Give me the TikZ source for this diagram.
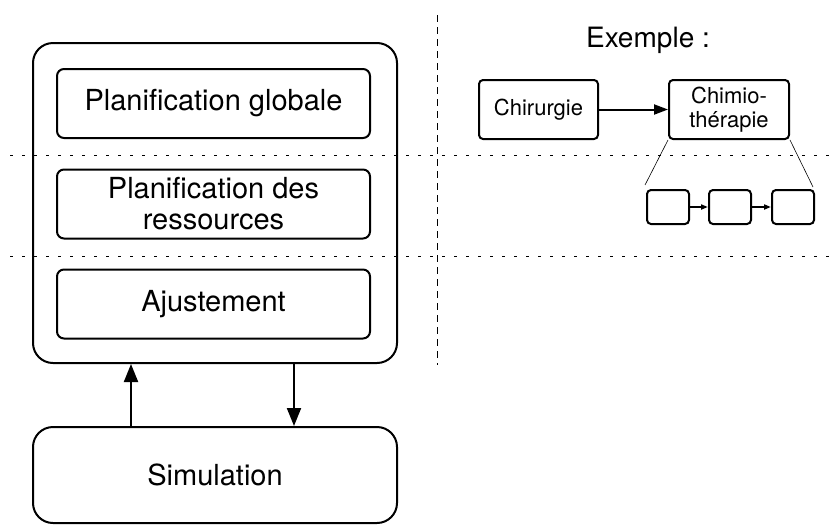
\documentclass[tikz,border=0pt]{standalone}
\usepackage{fontspec}
\setmainfont{TeX Gyre Heros}
\usetikzlibrary{arrows.meta,positioning}
\tikzset{
  bigbox/.style={draw,line width=1pt,rounded corners=10pt,minimum width=182pt},
  layerbox/.style={draw,line width=1pt,rounded corners=3.5pt,minimum width=156.5pt,minimum height=34.5pt,font=\fontsize{14.5}{15.5}\selectfont,align=center,inner sep=0pt},
  exbox/.style={draw,line width=1pt,rounded corners=2pt,minimum width=60pt,minimum height=29.5pt,font=\fontsize{11}{12}\selectfont,align=center,inner sep=0pt},
  stepbox/.style={draw,line width=1pt,rounded corners=2pt,minimum width=21pt,minimum height=17pt,inner sep=0pt},
  sep/.style={dash pattern=on 1.7pt off 4.3pt,line width=0.4pt},
}
\begin{document}
\begin{tikzpicture}[x=0.5pt,y=-0.5pt]
\useasboundingbox (0,0) rectangle (838,525);
% separators
\draw[sep] (10,155) -- (838,155);
\draw[sep] (10,256) -- (838,256);
\draw[dash pattern=on 3.5pt off 2.5pt,line width=0.3pt] (437,15) -- (437,365);
% planner and its layers
\node[bigbox,minimum height=160pt] (planner) at (215,203) {};
\node[layerbox] (global) at (213.5,103.5) {Planification globale};
\node[layerbox] (resources) at (213.5,204) {Planification des\\ressources};
\node[layerbox] (adjust) at (213.5,304) {Ajustement};
\node[bigbox,minimum height=48pt,font=\fontsize{14.5}{15.5}\selectfont] (sim) at (215,475) {Simulation};
\coordinate (upx) at (131,0);
\coordinate (downx) at (294,0);
\draw[-{Triangle[length=9pt,width=7pt]},line width=1pt] (sim.north -| upx) -- (planner.south -| upx);
\draw[-{Triangle[length=9pt,width=7pt]},line width=1pt] (planner.south -| downx) -- (sim.north -| downx);
% example
\node[font=\fontsize{14}{15}\selectfont] (title) at (648,40) {Exemple :};
\node[exbox,minimum width=59.5pt] (surgery) at (538.5,109.5) {Chirurgie};
\node[exbox] (chemo) at (729,109.5) {Chimio-\\thérapie};
\draw[-{Triangle[length=7pt,width=5pt]},line width=1pt] (surgery) -- (chemo);
\node[stepbox] (s1) at (668,207) {};
\node[stepbox] (s2) at (730,207) {};
\node[stepbox] (s3) at (793,207) {};
\draw[-{Triangle[length=3.5pt,width=2.5pt]},line width=1pt] (s1) -- (s2);
\draw[-{Triangle[length=3.5pt,width=2.5pt]},line width=1pt] (s2) -- (s3);
\coordinate (zl) at (645,185);
\coordinate (zr) at (813,187);
\draw[line width=0.3pt] (chemo.south west) -- (zl);
\draw[line width=0.3pt] (chemo.south east) -- (zr);
\end{tikzpicture}
\end{document}
